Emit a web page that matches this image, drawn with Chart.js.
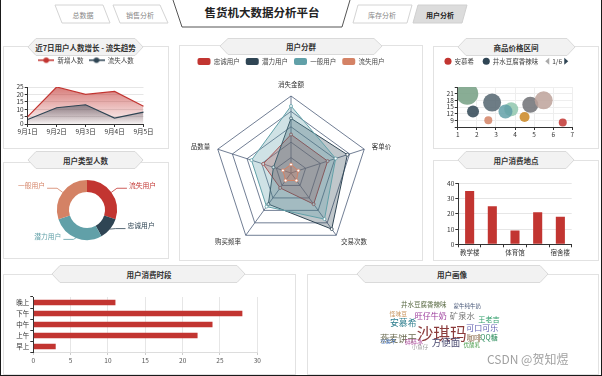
<!DOCTYPE html>
<html lang="zh">
<head>
<meta charset="utf-8">
<title>售货机大数据分析平台</title>
<script src="https://cdn.jsdelivr.net/npm/chart.js@4.4.1/dist/chart.umd.min.js"></script>
<style>
    html, body { margin: 0; padding: 0; background: #fff; }
    #page { position: relative; width: 602px; height: 376px; overflow: hidden; font-family: "Noto Sans CJK SC", "Noto Sans", sans-serif; }
    #frame { position: absolute; left: 0; top: 0; }
    canvas { position: absolute; }
    #mark { position: absolute; left: 487px; top: 352px; font-size: 12px; line-height: 14px; color: rgba(120,120,120,.7); white-space: nowrap; }
</style>
</head>
<body>
<div id="page">
    <svg id="frame" width="602" height="376" font-family="Noto Sans CJK SC, Noto Sans, sans-serif">
        <!-- header -->
        <g font-size="7" fill="#888" text-anchor="middle" dominant-baseline="central">
            <polygon points="55,5 103,5 110,23 62,23" fill="#fff" stroke="#d4d4d4"/>
            <text x="83" y="15">总数据</text>
            <polygon points="113,5 160,5 168,23 120,23" fill="#fff" stroke="#d4d4d4"/>
            <text x="140" y="15">销售分析</text>
            <polygon points="358,5 412,5 407,23 353,23" fill="#fff" stroke="#d4d4d4"/>
            <text x="382" y="15">库存分析</text>
            <polygon points="418,5 467,5 462,23 413,23" fill="#dcdcdc" stroke="#d0d0d0"/>
            <text x="440" y="15" fill="#222" font-weight="bold">用户分析</text>
        </g>
        <polyline points="173,0 182,27 342,27 350,0" fill="#fff" stroke="#555" stroke-width="1"/>
        <text x="262" y="12" font-size="11.5" font-weight="bold" fill="#222" text-anchor="middle" dominant-baseline="central">售货机大数据分析平台</text>

        <!-- panels -->
        <g fill="#fff" stroke="#e2e2e2">
            <rect x="3.5" y="46.5" width="165" height="102"/>
            <rect x="3.5" y="162.5" width="165" height="96"/>
            <rect x="179.5" y="45.5" width="243" height="215"/>
            <rect x="433.5" y="46.5" width="165" height="102"/>
            <rect x="433.5" y="160.5" width="165" height="100"/>
            <rect x="3.5" y="274.5" width="292" height="100"/>
            <rect x="307.5" y="274.5" width="291" height="100"/>
        </g>
        <g fill="#f2f2f2" stroke="#dadada">
            <polygon points="28,47 36,38.5 135,38.5 143,47 135,55.5 36,55.5"/>
            <polygon points="28,160 36,151.5 135,151.5 143,160 135,168.5 36,168.5"/>
            <polygon points="220,46 228,38.5 374,38.5 382,46 374,54.5 228,54.5"/>
            <polygon points="458,47 466,38.5 567,38.5 575,47 567,55.5 466,55.5"/>
            <polygon points="458,160 466,151.5 566,151.5 574,160 566,168.5 466,168.5"/>
            <polygon points="52,274 60,265.5 237,265.5 245,274 237,282.5 60,282.5"/>
            <polygon points="357,274 365,265.5 540,265.5 548,274 540,282.5 365,282.5"/>
        </g>
        <g font-size="7.5" font-weight="bold" fill="#333" text-anchor="middle" dominant-baseline="central">
            <text x="85.5" y="47">近7日用户人数增长 - 流失趋势</text>
            <text x="85.5" y="160">用户类型人数</text>
            <text x="301" y="46">用户分群</text>
            <text x="516" y="47">商品价格区间</text>
            <text x="516" y="160">用户消费地点</text>
            <text x="149" y="274">用户消费时段</text>
            <text x="452" y="274">用户画像</text>
        </g>
        <g stroke="#1a1a1a" stroke-width="1">
            <line x1="0.5" y1="0" x2="0.5" y2="376"/>
            <line x1="601.5" y1="0" x2="601.5" y2="376"/>
            <line x1="0" y1="375.5" x2="602" y2="375.5"/>
        </g>
    </svg>

    <canvas id="c-trend" width="164" height="95" style="left:4px;top:52px"></canvas>
    <canvas id="c-type" width="164" height="90" style="left:4px;top:168px"></canvas>
    <canvas id="c-group" width="242" height="206" style="left:170px;top:52px"></canvas>
    <canvas id="c-price" width="164" height="98" style="left:434px;top:49px"></canvas>
    <canvas id="c-place" width="164" height="91" style="left:434px;top:168px"></canvas>
    <canvas id="c-time" width="290" height="89" style="left:4px;top:284px"></canvas>
    <canvas id="c-cloud" width="290" height="89" style="left:308px;top:284px"></canvas>
    <div id="mark">CSDN @贺知煜</div>
</div>

<script>
/* global Chart */
(function () {
    'use strict';

    // =========================================================
    // Data
    // =========================================================
    // 近7日用户人数增长 - 流失趋势
    var trendDays = ['9月1日', '9月2日', '9月3日', '9月4日', '9月5日'];
    var trendNew  = [5, 25, 20, 22, 12];
    var trendLost = [3, 11, 13, 4, 8];

    // 用户类型人数
    var typeNames  = ['流失用户', '忠诚用户', '潜力用户', '一般用户'];
    var typeCounts = [30, 12, 28, 30];

    // 用户分群
    var groupAxes      = ['消失金额', '客单价', '交易次数', '购买频率', '品数量'];
    var groupNames     = ['忠诚用户', '潜力用户', '一般用户', '流失用户'];
    var groupLoyal     = [50, 50, 50, 24, 38];
    var groupPotential = [71, 77, 90, 50, 24];
    var groupNormal    = [87, 61, 74, 54, 54];
    var groupLost      = [11, 10, 12, 12, 11];

    // 商品价格区间 (x = 价格, y = 销量, r = 规模)
    var priceGoods = ['安慕希', '井水豆腐香辣味', '旺仔牛奶', '怪味豆', '矿泉水', '王老吉', '沙琪玛', '可口可乐', '燕麦饼干', '方便面'];
    var priceX     = [6.5, 1.8, 3.5, 2.6, 3.8, 1.5, 4.5, 5.5, 4.8, 2.8];
    var priceY     = [8, 13, 13, 9, 14, 21, 10.5, 18, 16, 17];
    var priceSize  = [4, 6, 7, 4, 7, 11, 5, 9, 8, 9];

    // 用户消费地点
    var placeNames  = ['教学楼', '图书馆', '体育馆', '食堂', '宿舍楼'];
    var placeCounts = [35, 25, 9, 21, 18];

    // 用户消费时段
    var timeNames  = ['早上', '上午', '中午', '下午', '晚上'];
    var timeCounts = [3, 22, 24, 28, 11];

    // 用户画像
    var cloudWords   = ['井水豆腐香辣味', '蒙牛纯牛奶', '怪味豆', '旺仔牛奶', '矿泉水', '王老吉', '安慕希', '沙琪玛', '可口可乐',
                        '燕麦饼干', '咖啡', 'QQ糖', '豆腐干', '碎碎冰', '方便面', '优酸乳', '小鱼仔'];
    var cloudWeights = [65, 55, 58, 80, 83, 72, 89, 167, 80, 92, 75, 70, 50, 60, 95, 55, 55];

    // word cloud layout (canvas px) and colours
    var cloudSpots = [[115.7, 20.3], [159.3, 22], [90.3, 29.3], [122.7, 32], [154.3, 32], [181, 35.3], [95.3, 38.3],
                      [133.7, 49.3], [174.3, 44.3], [90.3, 54.3], [166, 54.3], [181, 53.7], [80.3, 56.7], [106, 58],
                      [138, 58.3], [163.7, 61], [112, 63.3]];
    var cloudColors = ['#5b6b45', '#4b5a7a', '#c8955e', '#9b3a9b', '#767676', '#2f9e6a', '#2f7f8f', '#8c3b3b', '#5f5fb0',
                       '#6a6a50', '#8a6a4a', '#2f8f5f', '#3f6fbf', '#b04fa0', '#4a4a70', '#4fa050', '#999'];

    var PALETTE = ['#c23531', '#2f4554', '#61a0a8', '#d48265', '#91c7ae', '#749f83', '#ca8622', '#bda29a', '#6e7074', '#546570', '#c4ccd3'];
    var FONT = '"Noto Sans CJK SC", "Noto Sans", sans-serif';

    Chart.defaults.font.family = FONT;
    Chart.defaults.font.size = 6.5;
    Chart.defaults.color = '#333';
    Chart.defaults.animation = false;
    Chart.defaults.responsive = false;
    Chart.defaults.plugins.tooltip.enabled = false;

    // =========================================================
    // Helpers
    // =========================================================
    function rgba(hex, a) {
        var n = parseInt(hex.slice(1), 16);
        return 'rgba(' + (n >> 16) + ',' + ((n >> 8) & 255) + ',' + (n & 255) + ',' + a + ')';
    }

    // legend box with a fixed height so the plot starts where the reference does
    function legendHeight(h) {
        return {
            id: 'legendHeight',
            beforeInit: function (chart) {
                if (!chart.legend) return;
                var fit = chart.legend.fit;
                chart.legend.fit = function () {
                    fit.call(this);
                    this.height = h;
                };
            }
        };
    }

    function fixedWidth(w) {
        return function (scale) { scale.width = w; };
    }

    function fixedHeight(h) {
        return function (scale) { scale.height = h; };
    }

    // empty right-hand axis, only reserves room so the legend stays centred
    function spacer(w) {
        return {
            position: 'right', grid: { display: false }, border: { display: false },
            ticks: { display: false }, afterFit: fixedWidth(w)
        };
    }

    function byIndex(a, b) {
        return a.datasetIndex - b.datasetIndex;
    }

    function solidLegend(chart) {
        var items = Chart.defaults.plugins.legend.labels.generateLabels(chart);
        items.forEach(function (it) {
            var c = chart.data.datasets[it.datasetIndex].borderColor;
            it.fillStyle = c;
            it.strokeStyle = c;
            it.lineWidth = 0;
        });
        return items;
    }

    // line + dot marker for the line chart legend
    function lineMarker(color) {
        var c = document.createElement('canvas');
        c.width = 16;
        c.height = 8;
        var g = c.getContext('2d');
        g.strokeStyle = color;
        g.lineWidth = 1.5;
        g.beginPath();
        g.moveTo(0, 4);
        g.lineTo(16, 4);
        g.stroke();
        g.fillStyle = color;
        g.beginPath();
        g.arc(8, 4, 2.8, 0, Math.PI * 2);
        g.fill();
        return c;
    }

    function fadeFill(hex, top) {
        return function (ctx) {
            var area = ctx.chart.chartArea;
            if (!area) return rgba(hex, 0.3);
            var g = ctx.chart.ctx.createLinearGradient(0, area.top, 0, area.bottom);
            g.addColorStop(0, rgba(hex, top));
            g.addColorStop(1, rgba(hex, 0.03));
            return g;
        };
    }

    var axisDark = '#333';
    var gridLight = '#e6e6e6';

    // =========================================================
    // 近7日用户人数增长 - 流失趋势
    // =========================================================
    new Chart(document.getElementById('c-trend'), {
        type: 'line',
        data: {
            labels: trendDays,
            datasets: [
                {
                    label: '新增人数', data: trendNew, borderColor: PALETTE[0], borderWidth: 1.2,
                    backgroundColor: fadeFill(PALETTE[0], 0.65), fill: 'origin',
                    pointRadius: 0, pointStyle: lineMarker(PALETTE[0]), tension: 0, order: 2
                },
                {
                    label: '流失人数', data: trendLost, borderColor: PALETTE[1], borderWidth: 1.2,
                    backgroundColor: fadeFill(PALETTE[1], 0.95), fill: 'origin',
                    pointRadius: 0, pointStyle: lineMarker(PALETTE[1]), tension: 0, order: 1
                }
            ]
        },
        options: {
            layout: { padding: 0 },
            plugins: {
                legend: {
                    labels: { usePointStyle: true, pointStyleWidth: 16, padding: 5, color: '#444', sort: byIndex }
                }
            },
            scales: {
                x: {
                    grid: { drawOnChartArea: false, color: axisDark, tickLength: 3 },
                    border: { color: axisDark },
                    ticks: { padding: 1, maxRotation: 0, autoSkip: false },
                    afterFit: fixedHeight(23)
                },
                y: {
                    min: 0, max: 25,
                    ticks: { stepSize: 5, padding: 1, autoSkip: false },
                    grid: { color: gridLight, tickColor: axisDark, tickLength: 3 },
                    border: { color: axisDark },
                    afterFit: fixedWidth(23.7)
                },
                pad: spacer(24.5)
            }
        },
        plugins: [legendHeight(35)]
    });

    // =========================================================
    // 用户类型人数
    // =========================================================
    var pieLabels = {
        id: 'pieLabels',
        afterDatasetsDraw: function (chart) {
            var ctx = chart.ctx;
            var meta = chart.getDatasetMeta(0);
            var colors = chart.data.datasets[0].backgroundColor;
            ctx.save();
            ctx.font = '6.8px ' + FONT;
            ctx.textBaseline = 'middle';
            meta.data.forEach(function (arc, i) {
                var p = arc.getProps(['x', 'y', 'startAngle', 'endAngle', 'outerRadius']);
                var mid = (p.startAngle + p.endAngle) / 2;
                var cos = Math.cos(mid), sin = Math.sin(mid);
                var x1 = p.x + cos * p.outerRadius, y1 = p.y + sin * p.outerRadius;
                var x2 = p.x + cos * (p.outerRadius + 7), y2 = p.y + sin * (p.outerRadius + 7) - (sin > 0 ? 5 : 0);
                var dir = cos >= 0 ? 1 : -1;
                var x3 = x2 + dir * 10;
                ctx.strokeStyle = colors[i];
                ctx.lineWidth = 0.8;
                ctx.beginPath();
                ctx.moveTo(x1, y1);
                ctx.lineTo(x2, y2);
                ctx.lineTo(x3, y2);
                ctx.stroke();
                ctx.fillStyle = colors[i];
                ctx.textAlign = dir > 0 ? 'left' : 'right';
                ctx.fillText(chart.data.labels[i], x3 + dir * 2, y2 - 3);
            });
            ctx.restore();
        }
    };

    new Chart(document.getElementById('c-type'), {
        type: 'doughnut',
        data: {
            labels: typeNames,
            datasets: [{ data: typeCounts, backgroundColor: [PALETTE[0], PALETTE[1], PALETTE[2], PALETTE[3]], borderWidth: 0 }]
        },
        options: {
            cutout: '60%',
            layout: { padding: { left: 53, right: 51, top: 12, bottom: 18 } },
            plugins: { legend: { display: false } }
        },
        plugins: [pieLabels]
    });

    // =========================================================
    // 用户分群 — radar
    // =========================================================
    var radarLabels = {
        id: 'radarLabels',
        afterDraw: function (chart) {
            var s = chart.scales.r, ctx = chart.ctx;
            ctx.save();
            ctx.font = '6.5px ' + FONT;
            ctx.fillStyle = '#333';
            chart.data.labels.forEach(function (text, i) {
                var p = s.getPointPosition(i, s.drawingArea + 8);
                var dx = p.x - s.xCenter, dy = p.y - s.yCenter;
                ctx.textAlign = Math.abs(dx) < 1 ? 'center' : (dx > 0 ? 'left' : 'right');
                ctx.textBaseline = dy < -s.drawingArea * 0.9 ? 'bottom' : 'middle';
                ctx.fillText(text, p.x, p.y);
            });
            ctx.restore();
        }
    };

    // later series sit on top, as in the reference
    function radarSet(label, data, color, order) {
        return {
            label: label, data: data, borderColor: color, backgroundColor: rgba(color, 0.3), borderWidth: 1,
            pointRadius: 1.5, pointBackgroundColor: '#fff', pointBorderColor: color, pointBorderWidth: 0.8,
            order: order
        };
    }

    new Chart(document.getElementById('c-group'), {
        type: 'radar',
        data: {
            labels: groupAxes,
            datasets: [
                radarSet(groupNames[0], groupLoyal, PALETTE[0], 4),
                radarSet(groupNames[1], groupPotential, PALETTE[1], 3),
                radarSet(groupNames[2], groupNormal, PALETTE[2], 2),
                radarSet(groupNames[3], groupLost, PALETTE[3], 1)
            ]
        },
        options: {
            layout: { padding: { left: 0, right: 0, top: 0, bottom: 8 } },
            plugins: {
                legend: {
                    labels: {
                        boxWidth: 13, boxHeight: 7, padding: 6, color: '#444',
                        useBorderRadius: true, borderRadius: 2, generateLabels: solidLegend, sort: byIndex
                    }
                }
            },
            scales: {
                r: {
                    min: 0, max: 100,
                    ticks: { display: false, stepSize: 20 },
                    grid: { color: '#4d5d78', lineWidth: 0.8 },
                    angleLines: { color: '#4d5d78', lineWidth: 0.8 },
                    pointLabels: { display: false }
                }
            }
        },
        plugins: [legendHeight(44), radarLabels]
    });

    // =========================================================
    // 商品价格区间 — bubbles
    // =========================================================
    var pager = {
        id: 'pager',
        afterDraw: function (chart) {
            var boxes = chart.legend.legendHitBoxes;
            if (!boxes || !boxes.length) return;
            var last = boxes[boxes.length - 1];
            var x = last.left + last.width + 7;
            var y = last.top + last.height / 2;
            var ctx = chart.ctx;
            ctx.save();
            ctx.fillStyle = '#aaa';
            ctx.beginPath();
            ctx.moveTo(x, y);
            ctx.lineTo(x + 4, y - 3.5);
            ctx.lineTo(x + 4, y + 3.5);
            ctx.fill();
            ctx.fillStyle = '#333';
            ctx.font = '6.5px ' + FONT;
            ctx.textBaseline = 'middle';
            ctx.fillText('1/6', x + 7, y);
            ctx.fillStyle = PALETTE[1];
            ctx.beginPath();
            ctx.moveTo(x + 23, y);
            ctx.lineTo(x + 19, y - 3.5);
            ctx.lineTo(x + 19, y + 3.5);
            ctx.fill();
            ctx.restore();
        }
    };

    var bubbleSets = priceGoods.map(function (name, i) {
        return {
            label: name,
            data: [{ x: priceX[i], y: priceY[i], r: priceSize[i] }],
            backgroundColor: rgba(PALETTE[i], 0.85),
            borderColor: PALETTE[i],
            borderWidth: 0
        };
    });

    new Chart(document.getElementById('c-price'), {
        type: 'bubble',
        data: { datasets: bubbleSets },
        options: {
            layout: { padding: { left: 1.75, right: 0, top: 0, bottom: 0 } },
            plugins: {
                legend: {
                    align: 'start',
                    labels: {
                        usePointStyle: true, pointStyle: 'circle', boxHeight: 5, padding: 9, color: '#444',
                        generateLabels: solidLegend,
                        filter: function (item) { return item.datasetIndex < 2; }
                    }
                }
            },
            scales: {
                x: {
                    min: 1, max: 7,
                    ticks: { stepSize: 1, padding: 1 },
                    grid: { color: '#eee', tickColor: axisDark, tickLength: 3 },
                    border: { color: axisDark },
                    afterFit: fixedHeight(20)
                },
                y: {
                    min: 6, max: 24,
                    ticks: {
                        stepSize: 3, padding: 1, autoSkip: false,
                        callback: function (v) { return v >= 9 && v <= 21 ? v : ''; }
                    },
                    grid: { color: '#eee', tickColor: axisDark, tickLength: 3 },
                    border: { color: axisDark },
                    afterFit: fixedWidth(22)
                },
                pad: spacer(25.7)
            }
        },
        plugins: [legendHeight(38), pager]
    });

    // =========================================================
    // 用户消费地点
    // =========================================================
    new Chart(document.getElementById('c-place'), {
        type: 'bar',
        data: {
            labels: placeNames,
            datasets: [{ data: placeCounts, backgroundColor: PALETTE[0], barPercentage: 0.4, categoryPercentage: 1 }]
        },
        options: {
            layout: { padding: { left: 0, right: 26.3, top: 15.3, bottom: 0 } },
            plugins: { legend: { display: false } },
            scales: {
                x: {
                    grid: { drawOnChartArea: false, color: axisDark, tickLength: 3 },
                    border: { color: axisDark },
                    ticks: {
                        autoSkip: false, maxRotation: 0, padding: 1,
                        callback: function (v, i) { return i % 2 ? '' : this.getLabelForValue(v); }
                    },
                    afterFit: fixedHeight(14.7)
                },
                y: {
                    min: 0, max: 40,
                    ticks: { stepSize: 10, padding: 1, autoSkip: false },
                    grid: { color: gridLight, tickColor: axisDark, tickLength: 3 },
                    border: { color: axisDark },
                    afterFit: fixedWidth(24.3)
                }
            }
        }
    });

    // =========================================================
    // 用户消费时段
    // =========================================================
    new Chart(document.getElementById('c-time'), {
        type: 'bar',
        data: {
            labels: timeNames,
            datasets: [{ data: timeCounts, backgroundColor: PALETTE[0], barPercentage: 0.5, categoryPercentage: 1 }]
        },
        options: {
            indexAxis: 'y',
            layout: { padding: { left: 0, right: 36.7, top: 13, bottom: 0 } },
            plugins: { legend: { display: false } },
            scales: {
                x: {
                    min: 0, max: 30,
                    ticks: { stepSize: 5, padding: 2, color: '#555' },
                    grid: { color: gridLight, tickColor: '#ccc', tickLength: 3 },
                    border: { color: '#ddd' },
                    afterFit: fixedHeight(21)
                },
                y: {
                    reverse: true,
                    grid: { drawOnChartArea: false, color: axisDark, tickLength: 3 },
                    border: { color: axisDark },
                    ticks: { padding: 1, autoSkip: false },
                    afterFit: fixedWidth(29.3)
                }
            }
        }
    });

    // =========================================================
    // 用户画像 — word cloud
    // =========================================================
    var wordText = {
        id: 'wordText',
        afterDatasetsDraw: function (chart) {
            var ctx = chart.ctx;
            var pts = chart.getDatasetMeta(0).data;
            ctx.save();
            ctx.textAlign = 'center';
            ctx.textBaseline = 'middle';
            pts.forEach(function (pt, i) {
                ctx.font = (cloudWeights[i] / 10) + 'px ' + FONT;
                ctx.fillStyle = cloudColors[i];
                ctx.fillText(cloudWords[i], pt.x, pt.y);
            });
            ctx.restore();
        }
    };

    new Chart(document.getElementById('c-cloud'), {
        type: 'scatter',
        data: {
            datasets: [{
                data: cloudSpots.map(function (s) { return { x: s[0], y: s[1] }; }),
                pointRadius: 0
            }]
        },
        options: {
            layout: { padding: 0 },
            plugins: { legend: { display: false } },
            scales: {
                x: { display: false, min: 0, max: 290 },
                y: { display: false, min: 0, max: 89, reverse: true }
            }
        },
        plugins: [wordText]
    });
}());
</script>
</body>
</html>
